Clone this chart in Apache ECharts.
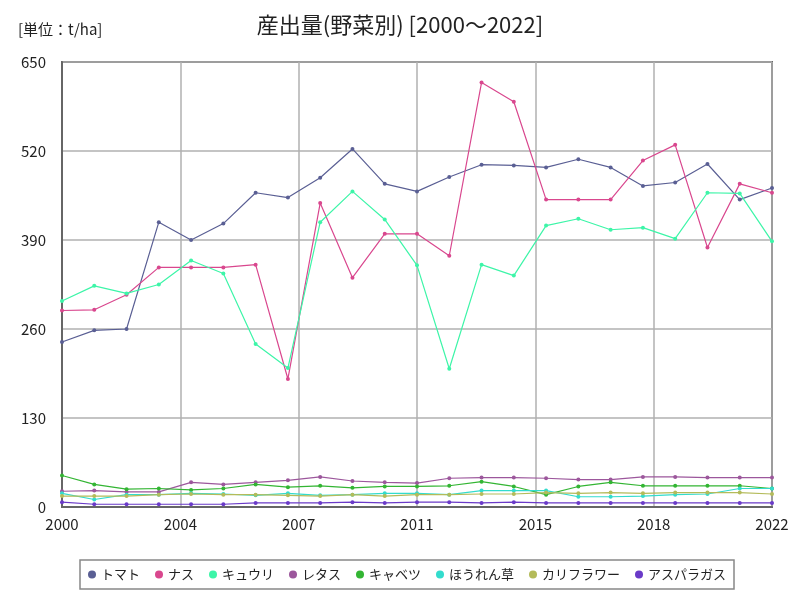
<!DOCTYPE html>
<html><head><meta charset="utf-8">
<script src="https://cdn.jsdelivr.net/npm/echarts@6/dist/echarts.min.js"></script>
<style>html,body{margin:0;padding:0;background:#fff}#c{width:800px;height:600px}</style>
</head><body><div id="c"></div>
<script>
const years = [2000,2001,2002,2003,2004,2005,2006,2007,2008,2009,2010,2011,2012,2013,2014,2015,2016,2017,2018,2019,2020,2021,2022];
const yTicks = [0,130,260,390,520,650];
const seriesNames = ['トマト','ナス','キュウリ','レタス','キャベツ','ほうれん草','カリフラワー','アスパラガス'];
const tomato = [241,258,260,416,390,414,459,452,481,523,472,461,482,500,499,496,508,496,469,474,501,449,466];
const nasu = [287,288,310,350,350,350,354,187,444,335,399,399,367,620,592,449,449,449,506,529,379,472,459];
const kyuri = [301,323,312,325,360,341,238,203,416,461,420,353,202,354,338,411,421,405,408,392,459,458,388];
const lettuce = [23,24,22,22,36,33,36,39,44,38,36,35,42,43,43,42,40,40,44,44,43,43,43];
const cabbage = [46,33,26,27,25,27,33,29,31,28,30,30,31,37,30,18,30,36,31,31,31,31,27];
const spinach = [20,11,18,18,20,19,17,20,17,18,20,20,18,24,24,24,15,15,16,18,19,27,27];
const cauliflower = [16,16,16,18,19,18,18,17,16,18,16,18,18,19,19,21,20,21,20,21,21,21,19];
const asparagus = [7,4,4,4,4,4,6,6,6,7,6,7,7,6,7,6,6,6,6,6,6,6,6];
const colors = ['#5a5f94','#d9478e','#3df5a8','#9c579c','#33b533','#33dccd','#b4bb5a','#6a3ac8'];
const allData = [tomato,nasu,kyuri,lettuce,cabbage,spinach,cauliflower,asparagus];

const chart = echarts.init(document.getElementById('c'));
const font = '"Noto Sans CJK JP", sans-serif';
const span = years[years.length-1]-years[0];
chart.setOption({
  animation:false,
  color: colors,
  textStyle:{fontFamily:font},
  title:[
    {text:'産出量(野菜別) [2000～2022]', left:'center', top:9, textStyle:{fontFamily:font,fontSize:22,fontWeight:'normal',color:'#222'}},
    {text:'[単位：t/ha]', left:13, top:17, textStyle:{fontFamily:font,fontSize:15,fontWeight:'normal',color:'#222'}}
  ],
  legend:{
    bottom:11, left:80, icon:'circle', itemWidth:8, itemHeight:8, itemGap:15,
    borderColor:'#888', borderWidth:1.5, padding:[8,8],
    textStyle:{fontFamily:font,fontSize:13,color:'#222'},
    data: seriesNames
  },
  grid:{left:62,right:28,top:62,bottom:93,show:true,borderColor:'#666',borderWidth:2},
  xAxis:{
    type:'value', min:0, max:span, interval:span/6,
    axisLine:{show:true,lineStyle:{color:'#666',width:2}},
    axisTick:{show:false},
    splitLine:{show:true,lineStyle:{color:'#b0b0b0',width:1.5}},
    axisLabel:{fontSize:15,color:'#222',margin:10,formatter:v=>String(Math.round(years[0]+v)),
      showMinLabel:true,showMaxLabel:true}
  },
  yAxis:{
    type:'value', min:yTicks[0], max:yTicks[yTicks.length-1], interval:yTicks[1]-yTicks[0],
    axisLine:{show:true,lineStyle:{color:'#666',width:2}},
    axisTick:{show:false},
    splitLine:{show:true,lineStyle:{color:'#b0b0b0',width:1.5}},
    axisLabel:{fontSize:15,color:'#222',margin:16}
  },
  series: seriesNames.map((n,i)=>({
    name:n, type:'line', symbol:'circle', symbolSize:4,
    lineStyle:{width:1.2}, itemStyle:{color:colors[i]},
    data: allData[i].map((v,j)=>[years[j]-years[0], v])
  }))
});
</script></body></html>
